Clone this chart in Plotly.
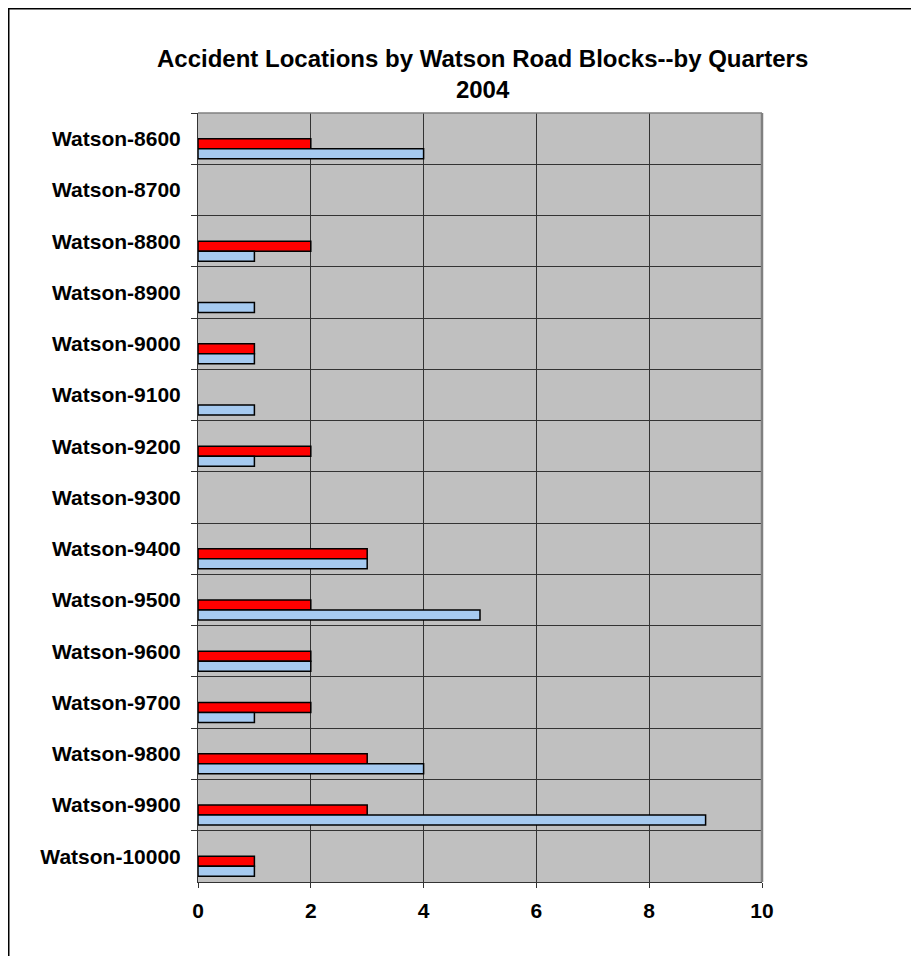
import plotly.graph_objects as go

categories = ["Watson-8600", "Watson-8700", "Watson-8800", "Watson-8900", "Watson-9000",
              "Watson-9100", "Watson-9200", "Watson-9300", "Watson-9400", "Watson-9500",
              "Watson-9600", "Watson-9700", "Watson-9800", "Watson-9900", "Watson-10000"]
q1_values = [4, None, 1, 1, 1, 1, 1, None, 3, 5, 2, 1, 4, 9, 1]
q2_values = [2, None, 2, None, 1, None, 2, None, 3, 2, 2, 2, 3, 3, 1]
q3_values = [None] * 15
q4_values = [None] * 15
x_ticks = [0, 2, 4, 6, 8, 10]

# page has an 8px body margin; work in figure coordinates
OFF = 8
W, H = 919 - OFF, 956 - OFF
L, R, T, B = 198 - OFF, 762 - OFF, 113 - OFF, 882 - OFF

FONT = "Liberation Sans, Arial, sans-serif"
line = dict(color="#000000", width=1.5)

fig = go.Figure()
fig.add_trace(go.Bar(y=categories, x=q4_values, orientation="h", name="Q4",
                     marker=dict(color="#FFFF99", line=line)))
fig.add_trace(go.Bar(y=categories, x=q3_values, orientation="h", name="Q3",
                     marker=dict(color="#993366", line=line)))
fig.add_trace(go.Bar(y=categories, x=q2_values, orientation="h", name="Q2",
                     marker=dict(color="#FF0000", line=line)))
fig.add_trace(go.Bar(y=categories, x=q1_values, orientation="h", name="Q1",
                     marker=dict(color="#A6CAF0", line=line)))

pw, ph = R - L, B - T
def px(x):
    return (x - OFF - L) / pw
def py(y):
    return (B - (y - OFF)) / ph

fig.update_layout(
    width=W, height=H,
    margin=dict(l=L, r=W - R, t=T, b=H - B, pad=0),
    paper_bgcolor="#FFFFFF",
    plot_bgcolor="#C0C0C0",
    barmode="group",
    bargap=0.22,
    bargroupgap=0,
    showlegend=False,
    font=dict(family=FONT, color="#000000"),
    xaxis=dict(
        range=[0, 10], tickvals=x_ticks, ticktext=[str(v) for v in x_ticks],
        showgrid=True, gridcolor="#333333", gridwidth=1,
        zeroline=False, showline=True, linecolor="#333333", linewidth=1,
        ticks="outside", ticklen=5, tickcolor="#333333",
        tickfont=dict(family=FONT, size=21, color="#000000", weight="bold"),
        ticklabelstandoff=5, fixedrange=True,
    ),
    yaxis=dict(
        autorange="reversed", type="category",
        tickson="boundaries", showgrid=True, gridcolor="#333333", gridwidth=1,
        showline=True, linecolor="#333333", linewidth=1,
        ticks="outside", ticklen=6, tickcolor="#333333",
        tickfont=dict(family=FONT, size=21, color="#000000", weight="bold"),
        ticklabelstandoff=12, fixedrange=True,
    ),
    annotations=[dict(
        text="Accident Locations by Watson Road Blocks--by Quarters<br>2004",
        xref="paper", yref="paper", x=px(482), y=py(43), xanchor="center", yanchor="top",
        showarrow=False, align="center",
        font=dict(family=FONT, size=24, color="#000000", weight="bold"),
    )],
    shapes=[
        dict(type="line", xref="paper", yref="paper", x0=1, x1=1, y0=0, y1=1,
             line=dict(color="#808080", width=2.5)),
        dict(type="line", xref="paper", yref="paper", x0=0, x1=1, y0=1, y1=1,
             line=dict(color="#808080", width=1.5)),
        dict(type="rect", xref="paper", yref="paper",
             x0=px(8.75), x1=px(916), y0=py(975), y1=py(8.75),
             line=dict(color="#000000", width=1.5), fillcolor="rgba(0,0,0,0)", layer="below"),
    ],
)

fig.write_html("out.html")
